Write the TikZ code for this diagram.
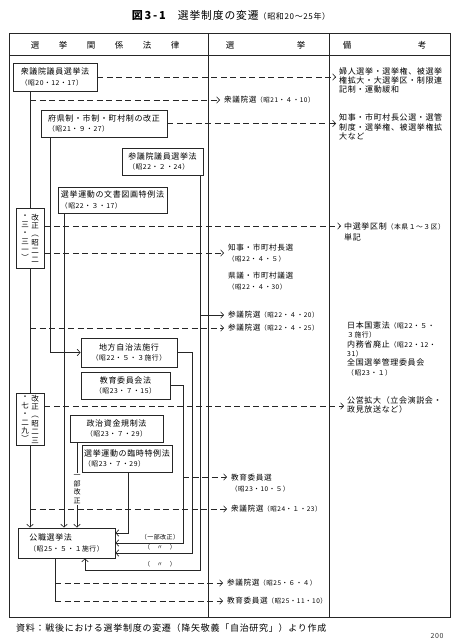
\documentclass[tikz,border=0pt]{standalone}
\usepackage{fontspec}
\setmainfont{Noto Sans CJK JP}[LetterSpace=8]
\usetikzlibrary{arrows.meta}
\newcommand\fsz[2]{\fontsize{#1}{#2}\selectfont}
\newcommand\bdt[1]{{\fsz{6.8}{10}#1}}
\newcommand\mdt[1]{{\fsz{6.5}{10}#1}}
\newcommand\rdt[1]{{\fsz{6.8}{9}#1}}
\begin{document}
\begin{tikzpicture}[x=1pt,y=-1pt,
  frame/.style={line width=0.9pt, draw=black!85},
  lawbox/.style={draw=black!85, line width=0.8pt, inner sep=1pt, align=left, font=\fsz{8}{10.5}, text=black},
  cbox/.style={lawbox, align=center},
  vframe/.style={draw=black!85, line width=0.8pt, inner sep=0pt, minimum width=28pt},
  vcol/.style={inner sep=0pt, align=center, font=\fsz{7.5}{8.4}, text=black},
  conn/.style={line width=0.65pt, draw=black!85},
  tip/.style={-{Straight Barb[length=3pt,width=6.5pt]}},
  arr/.style={conn, tip},
  darr/.style={conn, tip, dash pattern=on 6pt off 3.5pt},
  mtext/.style={inner sep=0pt, align=left, font=\fsz{7.6}{11}, text=black},
  rtext/.style={inner sep=0pt, align=left, anchor=north west, text=black},
  head/.style={inner sep=0pt, font=\fsz{8.5}{10}, text=black},
  lab/.style={inner sep=0.5pt, font=\fsz{6}{8}, text=black},
]
\useasboundingbox (0,0) rectangle (463,640);

% title
\node[inner sep=0, text=black] (title) at (231,15.5) {{\fsz{11}{13}\bfseries 図\,3\,-\,1}\hspace{12pt}{\fsz{10.8}{13}選挙制度の変遷}{\fsz{8}{10}（昭和20～25年）}};

% table frame
\draw[frame] (9,33) rectangle (450,617);
\draw[frame] (9,55) -- (450,55);
\draw[frame] (208,33) -- (208,617);
\draw[frame] (329,33) -- (329,617);

% header
\foreach \c [count=\i from 0] in {選,挙,関,係,法,律} \node[head] (hl\i) at (35+28*\i,45) {\c};
\node[head] (hm1) at (230,45) {選};
\node[head] (hm2) at (301,45) {挙};
\node[head] (hr1) at (347,45) {備};
\node[head] (hr2) at (422,45) {考};

% helper coordinates
\coordinate (L1) at (30,0);
\coordinate (L2) at (50,0);
\coordinate (L3) at (64,0);
\coordinate (L4) at (200,0);
\coordinate (L5) at (192,0);
\coordinate (L6) at (183,0);
\coordinate (L7) at (77,0);
\coordinate (L8) at (128,0);
\coordinate (L9) at (55,0);
\coordinate (X85) at (85,0);
\coordinate (h100) at (0,100);
\coordinate (h226) at (0,226);
\coordinate (h253) at (0,253);
\coordinate (h315) at (0,315);
\coordinate (h328) at (0,328);
\coordinate (h406) at (0,406);
\coordinate (h477) at (0,477);
\coordinate (h509) at (0,509);
\coordinate (h533) at (0,533);
\coordinate (h543) at (0,543);
\coordinate (h553) at (0,553);
\coordinate (h570) at (0,570);
\coordinate (h583) at (0,583);
\coordinate (h601) at (0,601);

% law boxes
\node[lawbox, minimum width=84, minimum height=28] (b1) at (55,77) {衆議院議員選挙法\\\bdt{（昭20・12・17）}};
\node[lawbox, minimum width=126, minimum height=27] (b2) at (104,123.5) {府県制・市制・町村制の改正\\\bdt{（昭21・９・27）}};
\node[lawbox, minimum width=81, minimum height=27] (b3) at (162.5,161.5) {参議院議員選挙法\\\bdt{（昭22・２・24）}};
\node[lawbox, minimum width=109, minimum height=26] (b4) at (112.5,200) {選挙運動の文書図画特例法\\\bdt{（昭22・３・17）}};
\node[cbox, minimum width=96, minimum height=29] (b5) at (129,352.5) {地方自治法施行\\\bdt{（昭22・５・３施行）}};
\node[cbox, minimum width=89, minimum height=27] (b6) at (125.5,385.5) {教育委員会法\\\bdt{（昭23・７・15）}};
\node[cbox, minimum width=93, minimum height=27] (b7) at (116.5,428.5) {政治資金規制法\\\bdt{（昭23・７・29）}};
\node[lawbox, minimum width=90, minimum height=27] (b8) at (127,458.5) {選挙運動の臨時特例法\\\bdt{（昭23・７・29）}};
\node[lawbox, minimum width=97, minimum height=30] (b9) at (66.5,543) {公職選挙法\\\bdt{（昭25・５・１施行）}};

% vertical amendment boxes
\node[vframe, minimum height=60] (k1) at (30,238) {};
\node[vcol] (k1r) at (35,238) {改\\正\\︵\\昭\\二\\二};
\node[vcol] (k1l) at (25,238) {・\\三\\・\\三\\一\\︶};
\node[vframe, minimum height=52] (k2) at (30,419) {};
\node[vcol] (k2r) at (35,419) {改\\正\\︵\\昭\\二\\三};
\node[vcol] (k2l) at (25,419) {・\\七\\・\\二\\九\\︶};

% middle column texts
\node[mtext, anchor=west] (m1) at (224,100) {衆議院選\mdt{（昭21・４・10）}};
\node[mtext, anchor=north west] (m2) at (228,243.5) {知事・市町村長選\\\mdt{（昭22・４・５）}};
\node[mtext, anchor=north west] (m3) at (228,271.5) {県議・市町村議選\\\mdt{（昭22・４・30）}};
\node[mtext, anchor=west] (m4) at (228,315) {参議院選\mdt{（昭22・４・20）}};
\node[mtext, anchor=west] (m5) at (228,328) {参議院選\mdt{（昭22・４・25）}};
\node[mtext, anchor=north west] (m6) at (231,473.5) {教育委員選\\\mdt{（昭23・10・５）}};
\node[mtext, anchor=west] (m7) at (231,509) {衆議院選\mdt{（昭24・１・23）}};
\node[mtext, anchor=west] (m8) at (227,583) {参議院選\mdt{（昭25・６・４）}};
\node[mtext, anchor=west] (m9) at (227,601) {教育委員選\mdt{（昭25・11・10）}};

% remarks column texts
\node[rtext, font=\fsz{8}{8.7}] (r1) at (339,68) {婦人選挙・選挙権、被選挙\\権拡大・大選挙区・制限連\\記制・運動緩和};
\node[rtext, font=\fsz{8}{9.5}] (r2) at (339,114) {知事・市町村長公選・選管\\制度・選挙権、被選挙権拡\\大など};
\node[rtext, font=\fsz{8}{11}] (r3) at (344,222.4) {中選挙区制\rdt{（本県１～３区）}\\単記};
\node[rtext, font=\fsz{8}{9.4}] (r4) at (347,321.4) {日本国憲法\rdt{（昭22・５・}\\\rdt{３施行）}\\内務省廃止\rdt{（昭22・12・}\\\rdt{31）}\\全国選挙管理委員会\\\rdt{（昭23・１）}};
\node[rtext, font=\fsz{8}{9}] (r5) at (347,396.4) {公営拡大（立会演説会・\\政見放送など）};

% solid connectors
\draw[conn] (b1.south -| L1) -- (k1.north);
\draw[conn] (k1.south) -- (k2.north);
\draw[arr] (k2.south) -- (b9.north -| L1);
\draw[arr] (b2.south -| L2) |- (b5.west);
\draw[arr] (b4.south -| L3) -- (b9.north -| L3);
\draw[arr] (b3.south -| L4) -- (L4 |- h570) -- (h570 -| X85) -- (b9.south -| X85);
\draw[arr] (b5.east) -- (b5.east -| L5) -- (L5 |- h553) -- (h553 -| b9.east);
\draw[arr] (b6.east) -- (b6.east -| L6) -- (L6 |- h543) -- (h543 -| b9.east);
\draw[arr] (b7.south -| L7) -- (b9.north -| L7);
\draw[arr] (b8.south -| L8) -- (L8 |- h533) -- (h533 -| b9.east);
\draw[conn] (b9.south -| L9) -- (L9 |- h601);
\draw[arr, shorten >=4pt] (L4 |- h315) -- (m4.west);

% label on L7
\node[fill=white, inner sep=1pt, align=center, font=\fsz{7}{8.6}, text=black] (lbl) at (77,489) {一\\部\\改\\正};

% dashed connectors
\draw[darr, shorten >=3pt] (b1.east) -- (b1.east -| r1.west);
\draw[darr, shorten >=4pt] (L1 |- h100) -- (m1.west);
\draw[darr, shorten >=3pt] (b2.east) -- (b2.east -| r2.west);
\draw[darr, shorten >=3pt] (k1.east |- h226) -- (h226 -| r3.west);
\draw[darr, shorten >=4pt] (k1.east |- h253) -- (h253 -| m2.west);
\draw[darr, shorten >=4pt] (L1 |- h328) -- (m5.west);
\draw[darr, shorten >=3pt] (k2.east |- h406) -- (h406 -| r5.west);
\draw[darr, shorten >=4pt] (L6 |- h477) -- (h477 -| m6.west);
\draw[darr, shorten >=4pt] (L1 |- h509) -- (m7.west);
\draw[darr, shorten >=4pt] (L9 |- h583) -- (m8.west);
\draw[darr, shorten >=4pt] (L9 |- h601) -- (m9.west);

% small labels near 公職選挙法
\node[lab] (l1) at (160,537) {（一部改正）};
\node[lab] (l2) at (160,547.5) {（　〃　）};
\node[lab] (l3) at (160,564) {（　〃　）};

% source and page number
\node[anchor=west, inner sep=0, font=\fsz{9}{10}, text=black] (src) at (16,628) {資料：戦後における選挙制度の変遷（降矢敬義「自治研究」）より作成};
\node[inner sep=0, font=\fsz{7}{9}, text=black!80] (pg) at (437,635.5) {200};
\end{tikzpicture}
\end{document}
